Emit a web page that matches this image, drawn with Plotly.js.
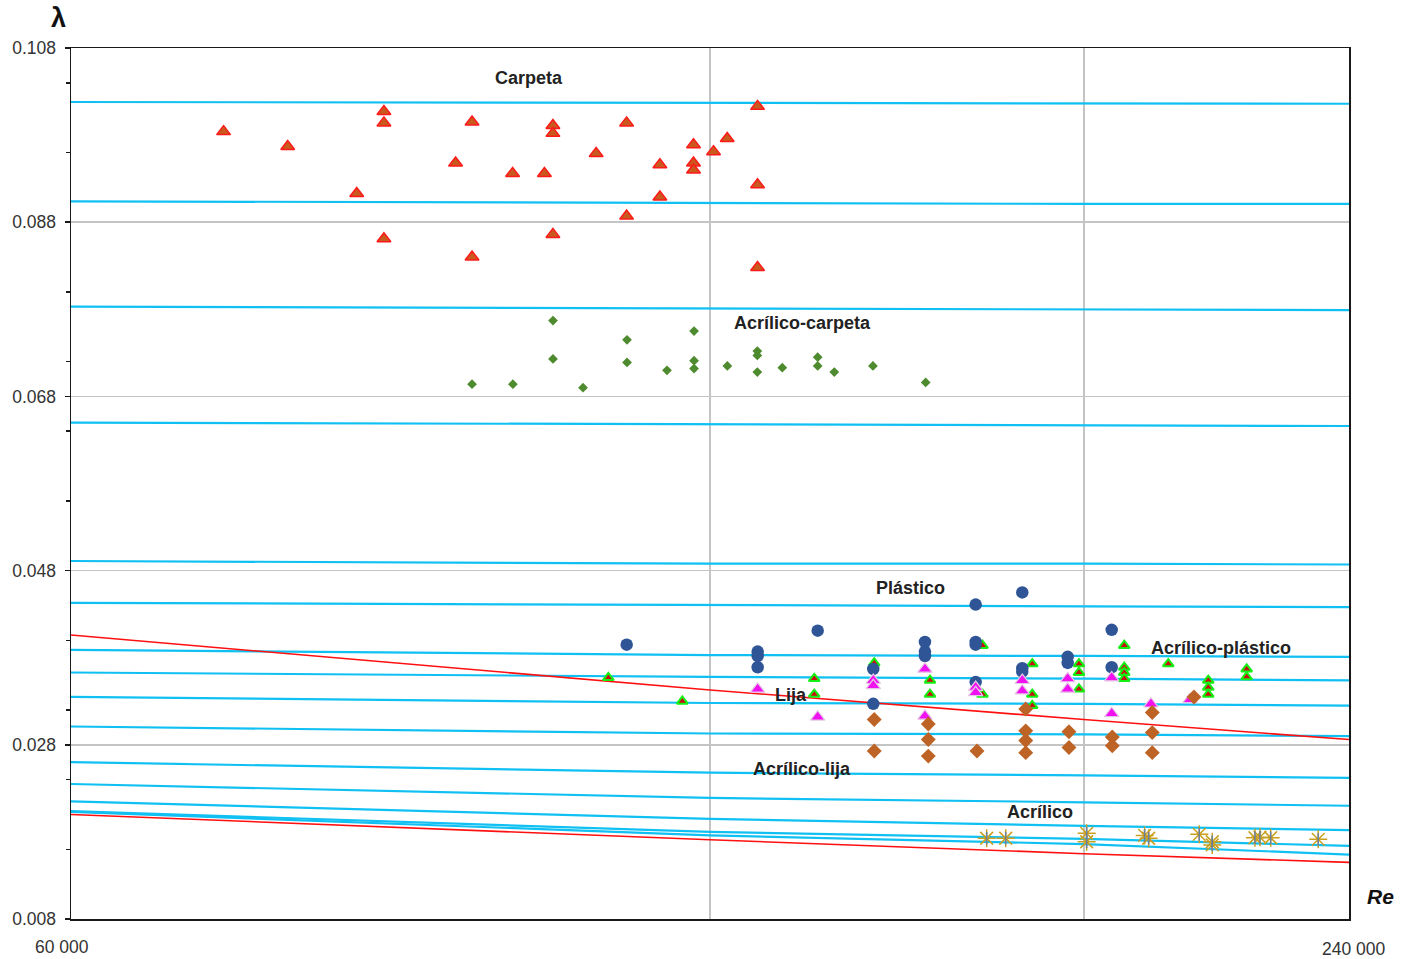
<!DOCTYPE html>
<html>
<head>
<meta charset="utf-8">
<script src="https://cdn.plot.ly/plotly-3.0.1.min.js"></script>
<style>
  html, body { margin: 0; padding: 0; background: #ffffff; }
  #chart { width: 1408px; height: 959px; }
</style>
</head>
<body>
<div id="chart"></div>
<script>
// ---------- Data ----------
// Reference curves (read at Re = 60 000, 120 000, 180 000, 240 000)
const curveRe = [60000, 120000, 180000, 240000];
const cyan01 = [0.1018, 0.1017, 0.1016, 0.1016];
const cyan02 = [0.0904, 0.0902, 0.0901, 0.0901];
const cyan03 = [0.0783, 0.0781, 0.0780, 0.0779];
const cyan04 = [0.0650, 0.0648, 0.0647, 0.0646];
const cyan05 = [0.0491, 0.0488, 0.0488, 0.0487];
const cyan06 = [0.0443, 0.0440, 0.0439, 0.0438];
const cyan07 = [0.0389, 0.0383, 0.0382, 0.0381];
const cyan08 = [0.0363, 0.0358, 0.0356, 0.0354];
const cyan09 = [0.0335, 0.0328, 0.0327, 0.0325];
const cyan10 = [0.0301, 0.0293, 0.0292, 0.0290];
const cyan11 = [0.0260, 0.0248, 0.0245, 0.0242];
const cyan12 = [0.0235, 0.0219, 0.0214, 0.0210];
const cyan13 = [0.0215, 0.0195, 0.0187, 0.0182];
const cyan14 = [0.0204, 0.0180, 0.0172, 0.0164];
const cyan15 = [0.0203, 0.0176, 0.0166, 0.0154];
const red1 = [0.0406, 0.0343, 0.0309, 0.0286];
const red2 = [0.0200, 0.0171, 0.0155, 0.0145];

// Measured points
const carpetaRe = [70800, 75900, 84250, 84250, 81800, 92700, 91060, 84250, 92700, 96870, 100270, 101200, 101200, 101200, 106060, 109620, 109620, 113650, 113650, 117870, 117870, 117870, 120460, 122260, 126350, 126350, 126350];
const carpetaL  = [0.0984, 0.0967, 0.1007, 0.0994, 0.0913, 0.0995, 0.0948, 0.0861, 0.0840, 0.0936, 0.0936, 0.0991, 0.0982, 0.0866, 0.0959, 0.0994, 0.0887, 0.0946, 0.0909, 0.0969, 0.0948, 0.0940, 0.0961, 0.0976, 0.1013, 0.0923, 0.0828];

const acrCarpetaRe = [92700, 96900, 101210, 101210, 104560, 109670, 109670, 114530, 117940, 117940, 117940, 122280, 126320, 126320, 126320, 129790, 134870, 134870, 137320, 143200, 151630];
const acrCarpetaL  = [0.0694, 0.0694, 0.0767, 0.0723, 0.0690, 0.0745, 0.0719, 0.0710, 0.0755, 0.0721, 0.0712, 0.0715, 0.0732, 0.0727, 0.0708, 0.0713, 0.0725, 0.0715, 0.0708, 0.0715, 0.0696];

const plasticoRe = [109630, 126370, 126370, 126370, 134870, 143250, 143250, 151510, 151510, 151510, 160080, 160080, 160080, 160080, 168380, 168380, 168380, 176880, 176880, 185530, 185530];
const plasticoL  = [0.0395, 0.0387, 0.0382, 0.0369, 0.0411, 0.0367, 0.0327, 0.0398, 0.0387, 0.0382, 0.0441, 0.0398, 0.0395, 0.0352, 0.0455, 0.0368, 0.0364, 0.0381, 0.0374, 0.0412, 0.0369];

const acrPlasticoRe = [107470, 116450, 134370, 134370, 143400, 152340, 152340, 161270, 161270, 170210, 170210, 170210, 179060, 179060, 179060, 188080, 188080, 188080, 188080, 197270, 206020, 206020, 206020, 214780, 214780];
const acrPlasticoL  = [0.0357, 0.0330, 0.0356, 0.0338, 0.0374, 0.0354, 0.0338, 0.0394, 0.0338, 0.0373, 0.0338, 0.0325, 0.0373, 0.0363, 0.0344, 0.0394, 0.0369, 0.0363, 0.0356, 0.0373, 0.0354, 0.0346, 0.0338, 0.0367, 0.0358];

const lijaRe = [126370, 134870, 143250, 143250, 151510, 151510, 160080, 160080, 168380, 168380, 176880, 176880, 185530, 185530, 193600, 201970];
const lijaL  = [0.0344, 0.0312, 0.0354, 0.0348, 0.0367, 0.0313, 0.0346, 0.0340, 0.0354, 0.0342, 0.0356, 0.0344, 0.0357, 0.0316, 0.0327, 0.0332];

const acrLijaRe = [143400, 143400, 152060, 152060, 152060, 160310, 169010, 169010, 169010, 169010, 177130, 177130, 185650, 185650, 193880, 193880, 193880, 202850];
const acrLijaL  = [0.0309, 0.0273, 0.0304, 0.0286, 0.0267, 0.0273, 0.0321, 0.0296, 0.0285, 0.0271, 0.0295, 0.0277, 0.0289, 0.0279, 0.0317, 0.0294, 0.0271, 0.0335];

const acrilicoRe = [162000, 165380, 180560, 180560, 192280, 193120, 204020, 206920, 206920, 216720, 217900, 220450, 232130];
const acrilicoL  = [0.01727, 0.01727, 0.01784, 0.01687, 0.01760, 0.01727, 0.01772, 0.01687, 0.01650, 0.01733, 0.01740, 0.01733, 0.01715];

// Labels
const seriesLabels = ['Carpeta', 'Acrílico-carpeta', 'Plástico', 'Acrílico-plástico', 'Lija', 'Acrílico-lija', 'Acrílico'];
const xTickText = ['60 000', '240 000'];
const xGridVals = [120000, 180000];
const yTickVals = [0.008, 0.028, 0.048, 0.068, 0.088, 0.108];

// ---------- Traces ----------
const cyanCurves = [cyan01, cyan02, cyan03, cyan04, cyan05, cyan06, cyan07, cyan08, cyan09, cyan10, cyan11, cyan12, cyan13, cyan14, cyan15];
const traces = [];
cyanCurves.forEach(c => traces.push({
  x: curveRe, y: c, type: 'scatter', mode: 'lines',
  line: {color: '#10C0F2', width: 2.2}, hoverinfo: 'skip'
}));
[red1, red2].forEach(c => traces.push({
  x: curveRe, y: c, type: 'scatter', mode: 'lines',
  line: {color: '#FF1010', width: 1.6}, hoverinfo: 'skip'
}));

traces.push({x: carpetaRe, y: carpetaL, type: 'scatter', mode: 'markers', name: seriesLabels[0],
  marker: {symbol: 'triangle-up', size: 12, color: '#C85A1E', line: {color: '#FF1A1A', width: 1.5}}});
traces.push({x: acrCarpetaRe, y: acrCarpetaL, type: 'scatter', mode: 'markers', name: seriesLabels[1],
  marker: {symbol: 'diamond', size: 7.5, color: '#4E8A2E', line: {width: 0}}});
traces.push({x: acrPlasticoRe, y: acrPlasticoL, type: 'scatter', mode: 'markers', name: seriesLabels[3],
  marker: {symbol: 'triangle-up', size: 9.5, color: '#C81010', line: {color: '#14F014', width: 2}}});
traces.push({x: plasticoRe, y: plasticoL, type: 'scatter', mode: 'markers', name: seriesLabels[2],
  marker: {symbol: 'circle', size: 12.5, color: '#2F5597', line: {width: 0}}});
traces.push({x: lijaRe, y: lijaL, type: 'scatter', mode: 'markers', name: seriesLabels[4],
  marker: {symbol: 'triangle-up', size: 12.5, color: '#F010F0', line: {color: '#E6C6E6', width: 1.2}}});
traces.push({x: acrLijaRe, y: acrLijaL, type: 'scatter', mode: 'markers', name: seriesLabels[5],
  marker: {symbol: 'diamond', size: 11.5, color: '#BE6326', line: {width: 0}}});
traces.push({x: acrilicoRe, y: acrilicoL, type: 'scatter', mode: 'markers', name: seriesLabels[6],
  marker: {symbol: 'asterisk-open', size: 15, color: '#C9A020', line: {color: '#C9A020', width: 1.5}}});
traces.push({x: acrilicoRe, y: acrilicoL, type: 'scatter', mode: 'markers', showlegend: false, hoverinfo: 'skip',
  marker: {symbol: 'line-ns-open', size: 9, color: '#6A7FA0', line: {color: '#6A7FA0', width: 1.5}}});

// ---------- Layout ----------
const FONT = 'Liberation Sans, Arial, sans-serif';
const labelFont = {family: FONT, size: 18, color: '#222222'};
const labelPos = [[0.3584, 0.9656], [0.5720, 0.6843], [0.6565, 0.3800], [0.8998, 0.3111], [0.5634, 0.2572], [0.5720, 0.1722], [0.7582, 0.1228]];
const annotations = seriesLabels.map((t, i) => ({
  text: '<b>' + t + '</b>', xref: 'paper', yref: 'paper', x: labelPos[i][0], y: labelPos[i][1],
  xanchor: 'center', yanchor: 'middle', showarrow: false, font: labelFont
}));
annotations.push({text: '<b>λ</b>', xref: 'paper', yref: 'paper', x: -0.0094, y: 1.0344,
  xanchor: 'center', yanchor: 'middle', showarrow: false,
  font: {family: FONT, size: 27, color: '#111111'}});
annotations.push({text: '<b><i>Re</i></b>', xref: 'paper', yref: 'paper', x: 1.025, y: 0.0253,
  xanchor: 'center', yanchor: 'middle', showarrow: false,
  font: {family: FONT, size: 21, color: '#111111'}});
annotations.push({text: xTickText[0], xref: 'paper', yref: 'paper', x: -0.007, y: -0.032,
  xanchor: 'center', yanchor: 'middle', showarrow: false,
  font: {family: FONT, size: 17.5, color: '#333333'}});
annotations.push({text: xTickText[1], xref: 'paper', yref: 'paper', x: 1.004, y: -0.0345,
  xanchor: 'center', yanchor: 'middle', showarrow: false,
  font: {family: FONT, size: 17.5, color: '#333333'}});

const layout = {
  width: 1408, height: 959,
  margin: {l: 71, r: 59, t: 48, b: 40, pad: 0},
  paper_bgcolor: '#ffffff', plot_bgcolor: '#ffffff',
  showlegend: false,
  xaxis: {
    type: 'log', range: [Math.log10(60000), Math.log10(240000)],
    tickvals: xGridVals, showticklabels: false, ticks: '',
    showgrid: true, gridcolor: '#C4C4C4', gridwidth: 1.5,
    showline: true, linecolor: '#1A1A1A', linewidth: 1.5, mirror: true,
    zeroline: false
  },
  yaxis: {
    range: [0.008, 0.108], tickvals: yTickVals, tickformat: '.3f',
    ticks: 'outside', ticklen: 5, tickwidth: 1.5, tickcolor: '#1A1A1A',
    ticklabelstandoff: 5,
    showgrid: true, gridcolor: '#C4C4C4', gridwidth: 1.5,
    showline: true, linecolor: '#1A1A1A', linewidth: 1.5, mirror: true,
    zeroline: false,
    tickfont: {family: FONT, size: 17.5, color: '#333333'},
    minor: {tick0: 0, dtick: 0.008, ticks: 'outside', ticklen: 4, tickwidth: 1.5, tickcolor: '#1A1A1A', showgrid: false}
  },
  annotations: annotations
};

Plotly.newPlot('chart', traces, layout, {displayModeBar: false, staticPlot: true});
</script>
</body>
</html>
